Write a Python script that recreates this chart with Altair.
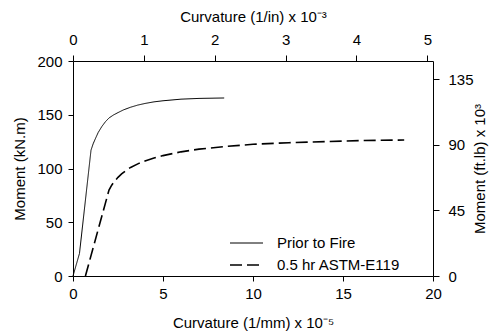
import altair as alt
import pandas as pd

# Curvature (1/mm x 1e-5) and moment (kN.m)
prior_curv = [0.0, 0.36, 1.0, 1.12, 1.25, 1.4, 1.6, 1.8, 2.0, 2.25, 2.5, 2.8, 3.2, 3.6, 4.0, 4.5, 5.0, 6.0, 7.0, 8.4]
prior_mom = [0.0, 21.0, 117.0, 123.0, 128.0, 133.5, 139.0, 143.5, 147.0, 149.8, 152.0, 154.5, 157.0, 159.0, 160.5, 162.0, 163.0, 164.5, 165.2, 165.6]
fire_curv = [0.69, 2.0, 2.15, 2.3, 2.5, 2.7, 3.0, 3.2, 3.6, 4.0, 4.5, 5.0, 6.0, 7.0, 8.5, 10.0, 12.0, 14.0, 16.0, 18.4]
fire_mom = [0.0, 80.0, 84.5, 88.0, 91.8, 95.0, 98.8, 101.0, 104.3, 107.0, 109.8, 112.0, 115.5, 118.0, 120.5, 122.5, 124.0, 125.0, 126.0, 126.5]
series_names = ["Prior to Fire", "0.5 hr ASTM-E119"]

bottom_ticks = [0, 5, 10, 15, 20]
left_ticks = [0, 50, 100, 150, 200]
top_ticks = [0, 1, 2, 3, 4, 5]
right_ticks = [0, 45, 90, 135]

MM_PER_IN = 25.4
KNM_TO_KIPFT = 0.737562

rows = []
for i, (c, m) in enumerate(zip(prior_curv, prior_mom)):
    rows.append({"series": series_names[0], "order": i, "curv": c, "mom": m})
for i, (c, m) in enumerate(zip(fire_curv, fire_mom)):
    rows.append({"series": series_names[1], "order": i, "curv": c, "mom": m})
df = pd.DataFrame(rows)
df["curv_in"] = df["curv"] * MM_PER_IN / 100.0
df["mom_ft"] = df["mom"] * KNM_TO_KIPFT

FONT = "Liberation Sans"

legend_kw = dict(title=None, orient="none", legendX=156, legendY=171,
                 symbolType="stroke", symbolSize=1089, symbolStrokeColor="black",
                 clipHeight=22, rowPadding=0, labelOffset=13, labelFontSize=15,
                 labelFont=FONT, labelColor="black", padding=0)

main = alt.Chart(df).mark_line(color="black", interpolate="linear").encode(
    x=alt.X("curv:Q",
            scale=alt.Scale(domain=[0, 20], nice=False, zero=False),
            axis=alt.Axis(orient="bottom", values=bottom_ticks,
                          title="Curvature (1/mm) x 10⁻⁵", titlePadding=14)),
    y=alt.Y("mom:Q",
            scale=alt.Scale(domain=[0, 200], nice=False),
            axis=alt.Axis(orient="left", values=left_ticks, labelPadding=6,
                          title="Moment (kN.m)", titlePadding=9)),
    strokeDash=alt.StrokeDash("series:N",
                              scale=alt.Scale(domain=series_names, range=[[1, 0], [12, 5]]),
                              legend=alt.Legend(**legend_kw)),
    strokeWidth=alt.StrokeWidth("series:N",
                                scale=alt.Scale(domain=series_names, range=[1, 1.6]),
                                legend=alt.Legend(**legend_kw)),
    detail="series:N",
    order="order:Q",
)

secondary = alt.Chart(df).mark_line(opacity=0).encode(
    x=alt.X("curv_in:Q",
            scale=alt.Scale(domain=[0, 20 * MM_PER_IN / 100.0], nice=False, zero=False),
            axis=alt.Axis(orient="top", values=top_ticks, tickSize=6, labelPadding=8,
                          title="Curvature (1/in) x 10⁻³", titlePadding=8)),
    y=alt.Y("mom_ft:Q",
            scale=alt.Scale(domain=[0, 200 * KNM_TO_KIPFT], nice=False),
            axis=alt.Axis(orient="right", values=right_ticks, tickSize=6, labelPadding=9,
                          title="Moment (ft.lb)  x 10³", titleAngle=270,
                          titleBaseline="bottom", titlePadding=14)),
    detail="series:N",
    order="order:Q",
)

chart = alt.layer(main, secondary).resolve_scale(
    x="independent", y="independent"
).properties(
    width=360, height=215,
    padding={"left": 73, "top": 61, "right": 65, "bottom": 59},
    autosize=alt.AutoSizeParams(type="none"),
    background="white",
).configure_view(
    stroke=None
).configure_axis(
    grid=False,
    domainColor="black", domainWidth=1,
    tickColor="black", tickSize=5, tickWidth=1,
    labelColor="black", labelFont=FONT, labelFontSize=15, labelPadding=5,
    titleColor="black", titleFont=FONT, titleFontSize=15, titleFontWeight="normal",
    labelFlush=False, labelOverlap=False,
)

chart.save("out.html", embed_options={"renderer": "svg", "actions": False})
